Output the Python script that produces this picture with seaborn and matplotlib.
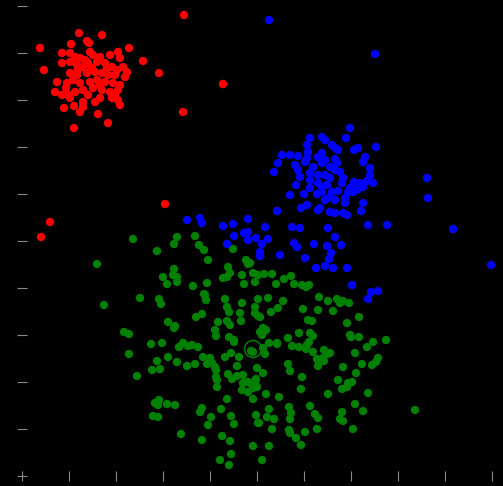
import numpy as np
import pandas as pd
import seaborn as sns
import matplotlib
matplotlib.use('Agg')
import matplotlib.pyplot as plt

# points (left->right, top->bottom reading units)
red_pts = [(79,33),(102,35),(40,48),(71,44),(87,41),(89,43),(129,48),(44,70),(62,53),(70,53),
           (75,57),(80,58),(90,52),(93,55),(100,57),(110,55),(118,52),(120,58),(62,63),(70,62),
           (77,65),(83,67),(88,63),(97,62),(105,63),(112,67),(117,70),(123,67),(127,72),(70,73),
           (77,75),(87,73),(95,72),(102,73),(108,75),(115,75),(125,77),(57,82),(67,83),(73,80),
           (80,83),(90,82),(97,80),(105,82),(113,83),(120,85),(55,92),(62,95),(68,95),(75,92),
           (83,90),(93,88),(102,90),(110,92),(118,90),(70,98),(83,102),(95,102),(100,98),(112,98),
           (118,100),(120,105),(64,108),(74,106),(80,112),(83,107),(98,114),(108,123),(74,128),
           (143,61),(159,73),(184,15),(223,84),(183,112),(165,204),(50,222),(41,237),
           (85,60),(92,68),(78,70),(100,85),(88,95),(107,68),(66,88),(115,95)]

blue_pts = [(350,128),(310,138),(322,137),(325,140),(346,138),(376,147),(307,145),(308,152),(332,145),
            (335,148),(338,150),(354,150),(358,148),(282,155),(290,155),(298,156),(322,153),(318,157),
            (325,160),(307,158),(305,162),(335,159),(337,163),(365,157),(363,162),(278,163),(274,172),
            (295,165),(298,170),(300,177),(313,167),(322,163),(330,167),(335,170),(340,172),(370,168),
            (370,175),(310,173),(310,180),(318,175),(325,175),(330,178),(343,178),(342,183),(354,182),
            (360,183),(367,181),(373,183),(296,185),(318,183),(322,187),(327,185),(310,188),(350,188),
            (357,190),(363,187),(290,195),(304,194),(317,194),(322,192),(332,192),(338,191),(348,192),
            (353,192),(325,200),(330,197),(335,200),(345,198),(345,203),(363,203),(307,205),(301,208),
            (318,210),(320,208),(330,212),(335,213),(343,213),(347,215),(361,211),(277,211),(265,227),
            (292,227),(300,228),(328,228),(368,225),(387,225),(187,220),(200,218),(202,223),(223,226),
            (233,224),(248,219),(244,233),(248,232),(234,236),(248,240),(256,238),(268,239),(262,244),
            (227,244),(294,243),(297,247),(314,244),(327,246),(335,237),(341,245),(260,252),(260,256),
            (280,255),(305,258),(331,253),(329,259),(316,268),(325,266),(333,268),(347,268),(352,285),
            (371,292),(378,291),(368,299),(269,20),(375,54),(427,178),(428,198),(453,229),(491,265)]

green_pts = [(177,237),(195,236),(174,244),(199,245),(204,250),(233,249),(208,260),(246,260),(248,264),
             (174,269),(173,275),(177,277),(177,282),(228,267),(230,273),(223,278),(227,277),(242,275),
             (253,273),(258,275),(264,274),(272,274),(255,282),(244,284),(207,283),(193,286),(276,284),
             (284,279),(291,276),(294,284),(302,285),(306,287),(309,285),(204,294),
             (133,239),(157,251),(97,264),(163,277),(167,284),(104,305),(140,298),(159,299),(161,304),
             (205,295),(206,300),(225,299),(227,307),(229,312),(242,303),(240,313),(241,321),(196,317),
             (202,314),(168,322),(175,326),(174,328),(218,322),(227,321),(230,325),(215,330),(216,336),
             (229,337),(234,340),(124,332),(129,334),(151,344),(162,343),(183,343),(179,347),(188,346),
             (192,345),(198,347),
             (129,354),(168,357),(157,361),(152,370),(160,369),(177,362),(187,366),(195,364),(203,357),
             (210,358),(207,364),(212,363),(215,367),(216,370),(225,357),(231,353),(239,357),(234,342),
             (251,351),(237,366),(137,376),(216,377),(217,380),(217,387),(228,374),(232,379),(237,376),
             (243,375),(243,383),(248,382),(242,390),(248,392),(253,388),(257,387),(256,379),(257,368),
             (227,399),(253,399),(155,403),(159,400),(158,405),(167,404),(175,405),(200,412),(202,408),
             (221,409),(211,417),(153,416),(158,417),(231,416),(256,415),(208,425),(234,424),(258,423),
             (181,434),(222,436),(202,440),(230,441),(253,446),(231,454),(220,460),(229,465),
             (269,343),(277,344),(253,352),(263,348),(265,354),(292,346),(299,347),(307,345),(309,342),
             (313,352),(306,349),(324,350),(327,354),(330,353),(323,358),(317,359),(318,366),(324,361),
             (355,353),(367,347),(373,342),(386,340),(343,367),(362,364),(372,365),(376,362),(378,358),
             (263,373),(288,364),(290,371),(302,377),(356,373),(338,380),(348,383),(352,382),(347,387),
             (342,389),(255,382),(250,383),(301,389),(328,394),(368,393),(266,394),(279,397),(355,404),
             (310,406),(289,407),(291,413),(290,419),(269,409),(315,414),(318,418),(342,412),(340,419),
             (343,421),(363,411),(415,410),(267,417),(274,419),(259,423),(272,429),(289,430),(290,433),
             (305,432),(317,429),(353,429),(296,438),(301,445),(269,446),(262,460),
             (250,263),(319,297),(328,301),(337,299),(340,303),(343,301),(349,303),(258,299),(268,298),
             (283,301),(255,307),(278,308),(271,312),(303,309),(318,310),(333,311),(255,313),(258,316),
             (260,317),(308,320),(312,321),(359,317),(347,323),(263,328),(266,330),(260,332),(262,335),
             (299,333),(310,333),(313,336),(350,335),(351,337),(359,337),(288,338),(277,343)]

marked_pt = [(253,349)]

# calibration of the reading units to axis units (ticks every 47 units, origin at 22/476)
X0, Y0, STEP = 22, 476, 47

def to_frame(pts, name):
    a = np.array(pts, dtype=float)
    return pd.DataFrame({'x': (a[:, 0] - X0) / STEP, 'y': (Y0 - a[:, 1]) / STEP, 'cluster': name})

df = pd.concat([to_frame(red_pts, 'red'), to_frame(green_pts, 'green'), to_frame(blue_pts, 'blue')],
               ignore_index=True)
mark = to_frame(marked_pt, 'green')

palette = {'red': '#ff0000', 'blue': '#0000ff', 'green': '#008000'}

sns.set_style('dark', {'axes.facecolor': 'black', 'figure.facecolor': 'black'})

fig = plt.figure(figsize=(5.03, 4.86), dpi=100)
ax = fig.add_axes([22 / 503, 10 / 486, 481 / 503, 476 / 486])

sns.scatterplot(data=df, x='x', y='y', hue='cluster', palette=palette, s=36,
                linewidth=0, legend=False, ax=ax)
sns.scatterplot(data=mark, x='x', y='y', s=150, facecolors='none', edgecolor='#008000',
                linewidth=1.1, legend=False, ax=ax)

ax.set_xlim(0, (503 - X0) / STEP)
ax.set_ylim(0, Y0 / STEP)
ax.set_xticks(range(11))
ax.set_yticks(range(11))
ax.set_xticklabels([])
ax.set_yticklabels([])
ax.set_xlabel('')
ax.set_ylabel('')
ax.tick_params(direction='inout', length=7, width=0.8, color='#8a8a8a',
               bottom=True, left=True)
for sp in ax.spines.values():
    sp.set_visible(False)
ax.grid(False)

plt.savefig('out.png', dpi=100, facecolor='black')
